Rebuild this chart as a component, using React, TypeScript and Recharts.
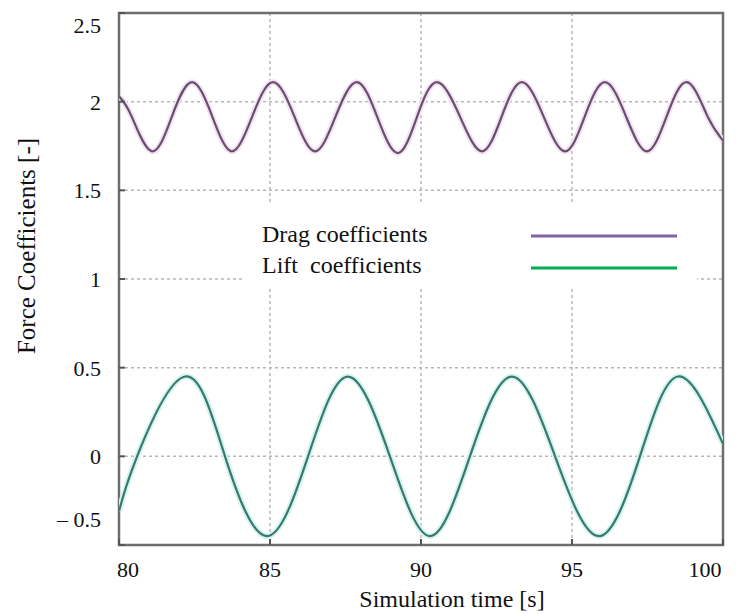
import React from 'react';
import { LineChart, Line, XAxis, YAxis, CartesianGrid, ReferenceArea } from 'recharts';

// values
const timeTicks = [80, 85, 90, 95, 100];
const coefTicks = [-0.5, 0, 0.5, 1, 1.5, 2, 2.5];

const dragTime = [80.0, 80.41, 81.09, 81.76, 82.42, 83.08, 83.74, 84.42, 85.1, 85.8, 86.49, 87.18, 87.88, 88.56, 89.24, 89.88, 90.53, 91.28, 92.02, 92.68, 93.34, 94.05, 94.77, 95.43, 96.09, 96.78, 97.48, 98.14, 98.81, 99.48, 100.0];
const dragCoef = [2.03, 1.92, 1.72, 1.92, 2.11, 1.92, 1.72, 1.92, 2.11, 1.92, 1.72, 1.92, 2.11, 1.91, 1.71, 1.92, 2.11, 1.92, 1.72, 1.92, 2.11, 1.92, 1.72, 1.92, 2.11, 1.92, 1.72, 1.92, 2.11, 1.92, 1.78];

const liftTime = [80.0, 80.6, 82.19, 83.51, 84.9, 86.26, 87.58, 88.97, 90.3, 91.62, 93.01, 94.44, 95.89, 97.25, 98.51, 100.0];
const liftCoef = [-0.31, 0.0, 0.45, 0.0, -0.45, 0.0, 0.45, 0.0, -0.45, 0.0, 0.45, 0.0, -0.45, 0.0, 0.45, 0.07];

const dragData = dragTime.map((t, i) => ({ t, v: dragCoef[i] }));
const liftData = liftTime.map((t, i) => ({ t, v: liftCoef[i] }));

const FONT = 'Liberation Serif, Times New Roman, serif';
const txt = { fontFamily: FONT, whiteSpace: 'pre' as const };

const XTick = (props: any) => {
  const { x, payload } = props;
  let dx = 0;
  if (payload.value === 80) dx = 9;
  if (payload.value === 100) dx = -18;
  return (
    <text x={x + dx} y={577} textAnchor="middle" style={txt} fontSize={22} fill="#111">
      {payload.value}
    </text>
  );
};

const YTick = (props: any) => {
  const { y, payload } = props;
  const v = payload.value;
  let dy = 8;
  if (v === 2.5) dy = 20;
  if (v === -0.5) dy = -18;
  const label = v < 0 ? `– ${Math.abs(v)}` : String(v);
  return (
    <text x={101} y={y + dy} textAnchor="end" style={txt} fontSize={22} fill="#111">
      {label}
    </text>
  );
};

const NoTick = () => <g />;

export default function App() {
  return (
    <div style={{ position: 'absolute', left: 0, top: 0, width: 737, height: 614, background: '#fff' }}>
      <LineChart width={737} height={614} margin={{ top: 13, right: 14, bottom: 0, left: 0 }}>
        <CartesianGrid stroke="#b8b8b8" strokeDasharray="3 3" strokeWidth={1.5} />
        <XAxis
          dataKey="t"
          type="number"
          domain={[80, 100]}
          ticks={timeTicks}
          allowDataOverflow
          height={69}
          axisLine={false}
          tickSize={-6}
          tickLine={{ stroke: '#555', strokeWidth: 2 }}
          tick={XTick}
          label={{
            content: () => (
              <text x={452} y={607} textAnchor="middle" style={txt} fontSize={24} fill="#111">
                Simulation time [s]
              </text>
            ),
          }}
        />
        <XAxis
          xAxisId="top"
          orientation="top"
          type="number"
          domain={[80, 100]}
          ticks={timeTicks}
          allowDataOverflow
          height={0}
          axisLine={false}
          tickSize={-6}
          tickLine={{ stroke: '#555', strokeWidth: 2 }}
          tick={NoTick}
        />
        <YAxis
          type="number"
          domain={[-0.5, 2.5]}
          ticks={coefTicks}
          allowDataOverflow
          width={119}
          axisLine={false}
          tickSize={-6}
          tickLine={{ stroke: '#555', strokeWidth: 2 }}
          tick={YTick}
          label={{
            content: () => (
              <text
                x={0}
                y={0}
                transform="translate(35 246) rotate(-90)"
                textAnchor="middle"
                style={txt}
                fontSize={25}
                fill="#111"
              >
                Force Coefficients [-]
              </text>
            ),
          }}
        />
        <YAxis
          yAxisId="right"
          orientation="right"
          type="number"
          domain={[-0.5, 2.5]}
          ticks={coefTicks}
          allowDataOverflow
          width={0}
          axisLine={false}
          tickSize={-6}
          tickLine={{ stroke: '#555', strokeWidth: 2 }}
          tick={NoTick}
        />
        <ReferenceArea x1={80} x2={100} y1={-0.5} y2={2.5} fill="none" stroke="#6e6e6e" strokeWidth={2.5} ifOverflow="visible" />
        <Line data={dragData} dataKey="v" type="natural" stroke="#f5e1f2" strokeWidth={6} dot={false} legendType="none" isAnimationActive={false} />
        <Line data={liftData} dataKey="v" type="natural" stroke="#d2f5f1" strokeWidth={6} dot={false} legendType="none" isAnimationActive={false} />
        <Line data={dragData} dataKey="v" name="Drag coefficients" type="natural" stroke="#65506f" strokeWidth={2.2} dot={false} isAnimationActive={false} />
        <Line data={liftData} dataKey="v" name="Lift coefficients" type="natural" stroke="#3c766d" strokeWidth={2.2} dot={false} isAnimationActive={false} />
      </LineChart>
      <div style={{ position: 'absolute', left: 245, top: 203, width: 452, height: 86, background: '#fff' }}>
        <svg width={452} height={86}>
          <text x={17} y={39} style={txt} fontSize={24} fill="#111">Drag coefficients</text>
          <text x={17} y={70} style={txt} fontSize={24} fill="#111">Lift  coefficients</text>
          <line x1={286} x2={432} y1={33} y2={33} stroke="#8064a2" strokeWidth={3} />
          <line x1={286} x2={432} y1={65} y2={65} stroke="#00b050" strokeWidth={3} />
        </svg>
      </div>
    </div>
  );
}
